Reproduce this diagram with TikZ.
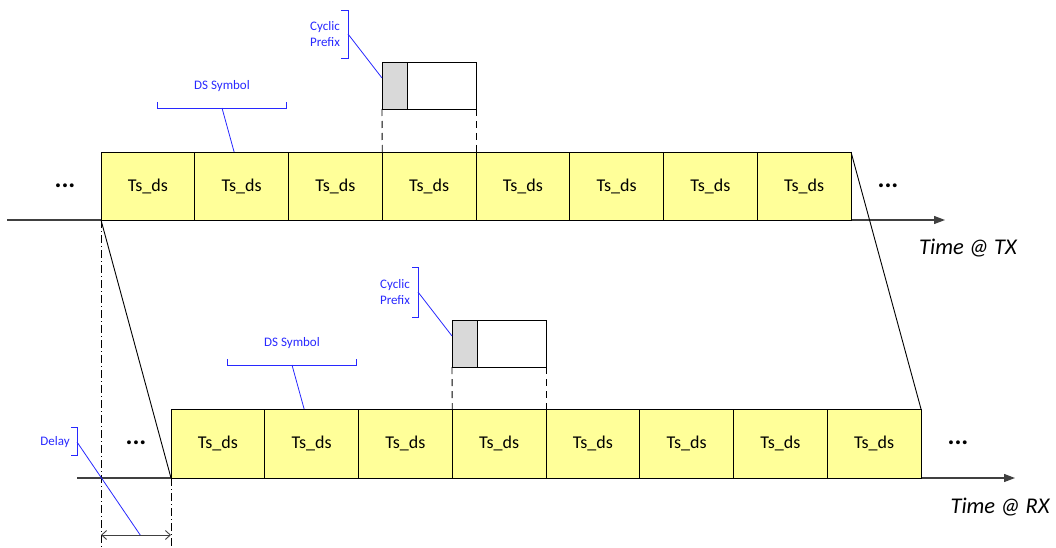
\documentclass[tikz,border=0pt]{standalone}
\usepackage{fontspec}
\setmainfont{Carlito}
\usetikzlibrary{arrows.meta,positioning,calc}
\definecolor{tsyellow}{RGB}{255,255,153}
\definecolor{cpgray}{RGB}{217,217,217}
\definecolor{lblblue}{RGB}{40,40,255}
\tikzset{
  tsbox/.style={draw=black,fill=tsyellow,line width=0.9pt,minimum width=93.75pt,minimum height=68pt,inner sep=0pt,outer sep=0pt,font=\fontsize{18}{20}\selectfont},
  cpbox/.style={draw=black,fill=white,line width=0.9pt,minimum width=94pt,minimum height=47pt,inner sep=0pt,outer sep=0pt},
  cpshade/.style={draw=black,fill=cpgray,line width=0.9pt,minimum width=25pt,minimum height=47pt,inner sep=0pt,outer sep=0pt,anchor=west},
  dots/.style={inner sep=0pt,font=\fontsize{26}{26}\bfseries\selectfont},
  timelabel/.style={inner sep=0pt,font=\fontsize{22.5}{24}\itshape\selectfont},
  bluelabel/.style={inner sep=0pt,align=center,text=lblblue,font=\fontsize{13}{16}\selectfont},
  brace/.style={draw=lblblue,line width=0.9pt},
  callout/.style={draw=lblblue,line width=0.8pt},
  axis/.style={draw=black!75,line width=1.2pt,-{Triangle[length=11pt,width=8pt]}},
  guide/.style={draw=black,line width=0.9pt,dash pattern=on 7pt off 5pt},
  delayguide/.style={draw=black,line width=0.8pt,dash pattern=on 8pt off 3pt on 1pt off 3pt},
  skew/.style={draw=black,line width=0.9pt}
}
\begin{document}
\begin{tikzpicture}[x=1pt,y=-1pt]
\useasboundingbox (0,0) rectangle (1056,548);

% TX row
\coordinate (txstart) at (7,220);
\coordinate (txend) at (945,220);
\draw[axis] (txstart) -- (txend);
\foreach \i in {1,...,8}
  \node[tsbox] (tx\i) at ({54.125+93.75*\i},186) {Ts\_ds};
\node[dots] (txdotsL) at (65,186) {...};
\node[dots] (txdotsR) at (888,186) {...};
\node[timelabel] (txtime) at (968,248) {Time @ TX};

\node[cpbox] (txcp) at (429,85.5) {};
\node[cpshade] (txcpg) at (txcp.west) {};
\draw[guide] (txcp.south west) -- (tx4.north west);
\draw[guide] (txcp.south east) -- (tx4.north east);
\node[bluelabel] (txcptext) at (325,34) {Cyclic\\Prefix};
\draw[brace] (341,10) -- (348,10) -- (348,58) -- (341,58);
\coordinate (txcpmid) at (348,34);
\draw[callout] (txcpmid) -- ([yshift=7.5pt]txcp.west);

\node[bluelabel] (txdstext) at (222,86) {DS Symbol};
\draw[brace] (157,102) -- (157,108) -- (286,108) -- (286,102);
\coordinate (txdsmid) at (222,108);
\draw[callout] (txdsmid) -- ([xshift=-7.5pt]tx2.north);

% RX row
\coordinate (rxstart) at (77,478);
\coordinate (rxend) at (1015,478);
\draw[axis] (rxstart) -- (rxend);
\foreach \i in {1,...,8}
  \node[tsbox,minimum height=69pt] (rx\i) at ({124.125+93.75*\i},443.5) {Ts\_ds};
\node[dots] (rxdotsL) at (136,443) {...};
\node[dots] (rxdotsR) at (958,443) {...};
\node[timelabel] (rxtime) at (1000,507) {Time @ RX};

\node[cpbox] (rxcp) at (499,343.5) {};
\node[cpshade] (rxcpg) at (rxcp.west) {};
\draw[guide] (rxcp.south west) -- (rx4.north west);
\draw[guide] (rxcp.south east) -- (rx4.north east);
\node[bluelabel] (rxcptext) at (395,292) {Cyclic\\Prefix};
\draw[brace] (412,267) -- (418,267) -- (418,317) -- (412,317);
\coordinate (rxcpmid) at (418,292);
\draw[callout] (rxcpmid) -- ([yshift=7.5pt]rxcp.west);

\node[bluelabel] (rxdstext) at (292,343) {DS Symbol};
\draw[brace] (227,359) -- (227,365) -- (356,365) -- (356,359);
\coordinate (rxdsmid) at (292,365);
\draw[callout] (rxdsmid) -- ([xshift=-7.5pt]rx2.north);

% propagation
\draw[skew] (tx1.south west) -- (rx1.south west);
\draw[skew] (tx8.north east) -- (rx8.north east);

% delay
\draw[delayguide] (tx1.south west) -- ++(0,328);
\draw[delayguide] (rx1.south west) -- ++(0,70);
\coordinate (dleft) at (101,535);
\coordinate (dright) at (171,535);
\draw[black!75,line width=0.9pt,{Straight Barb[length=5pt,width=9pt]}-{Straight Barb[length=5pt,width=9pt]}] (dleft) -- (dright);
\node[bluelabel] (delaytext) at (55,442) {Delay};
\draw[brace] (71,427) -- (77,427) -- (77,455) -- (71,455);
\coordinate (delaymid) at (77,442);
\draw[callout] (delaymid) -- ($(dleft)!0.56!(dright)$);
\end{tikzpicture}
\end{document}
